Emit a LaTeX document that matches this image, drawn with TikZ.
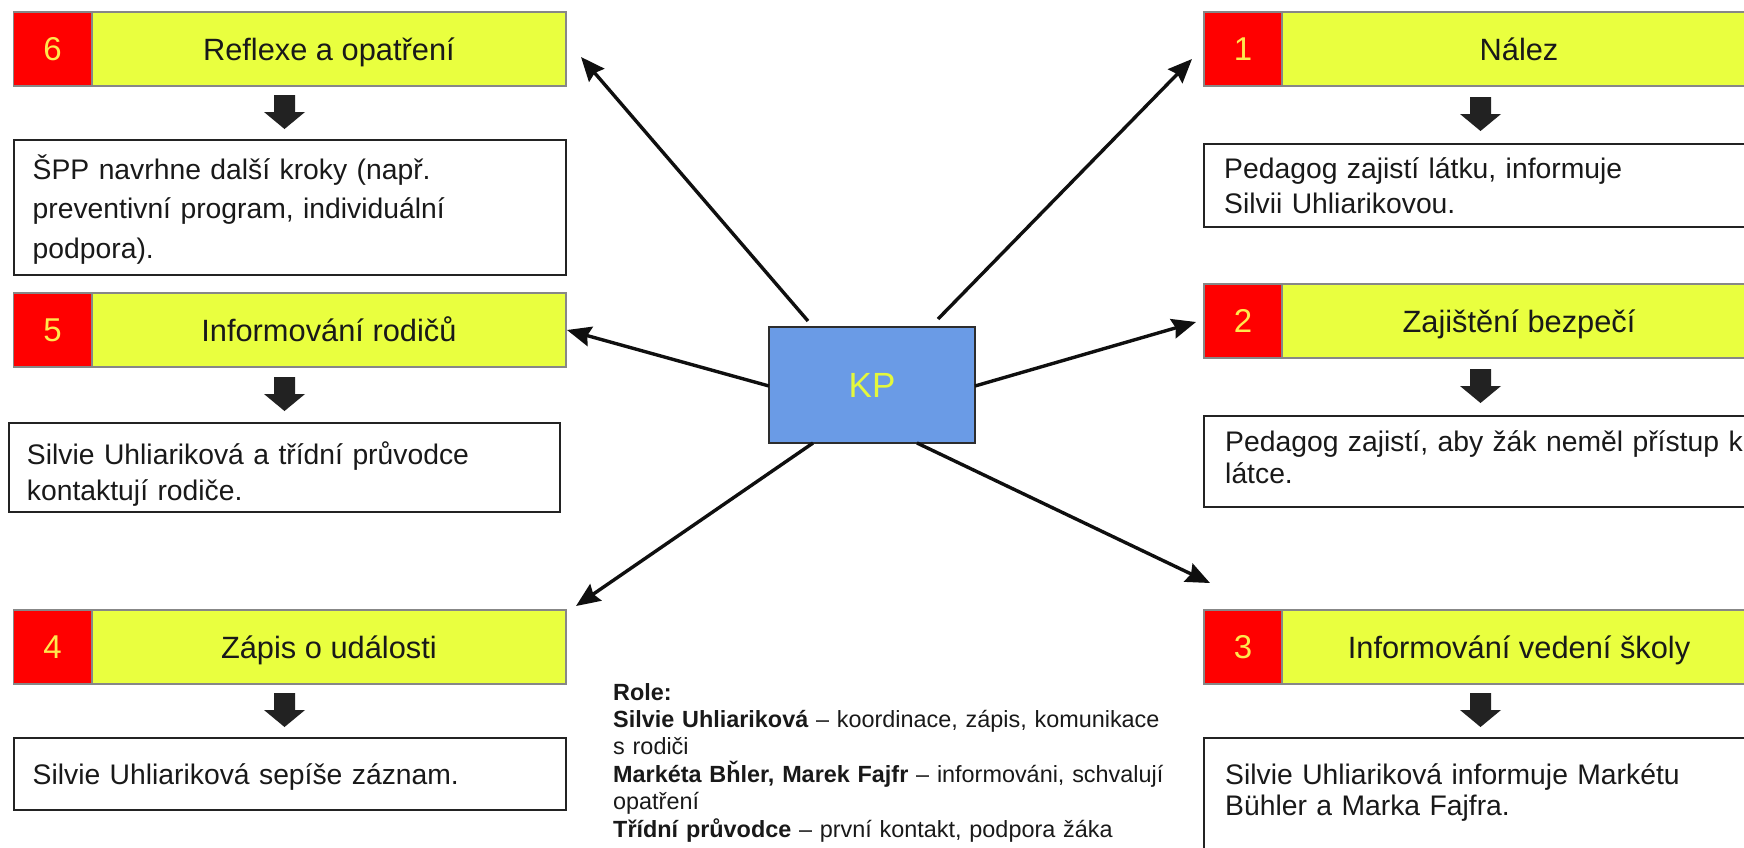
\documentclass[tikz,border=0pt]{standalone}
\usepackage{fontspec}
\setmainfont{Liberation Sans}
\usetikzlibrary{arrows.meta}
\definecolor{hdryel}{RGB}{233,255,63}
\definecolor{numred}{RGB}{255,0,0}
\definecolor{numyel}{RGB}{255,232,77}
\definecolor{hdrgray}{RGB}{135,135,135}
\definecolor{boxblack}{RGB}{35,35,35}
\definecolor{txtblack}{RGB}{25,25,25}
\definecolor{kpblue}{RGB}{106,155,230}
\definecolor{kptext}{RGB}{228,248,60}
\definecolor{kpborder}{RGB}{45,45,45}
\definecolor{arrblack}{RGB}{15,15,15}
\definecolor{blockarr}{RGB}{34,34,34}
\tikzset{
  numcell/.style={draw=hdrgray, line width=1.6pt, fill=numred, text=numyel,
    minimum width=78.5pt, minimum height=74pt, inner sep=0pt,
    font=\fontsize{33pt}{33pt}\selectfont, text height=23.6pt, text depth=0pt},
  titlecell/.style={draw=hdrgray, line width=1.6pt, fill=hdryel, text=txtblack,
    minimum width=474pt, minimum height=74pt, inner sep=0pt,
    font=\fontsize{30.8pt}{30.8pt}\selectfont, text height=22pt, text depth=0pt},
  infobox/.style={draw=boxblack, line width=2pt, fill=white, minimum width=552pt, inner sep=0pt},
  infotext/.style={anchor=base west, inner sep=0pt, text width=545pt, align=left,
    text=txtblack, font=\fontsize{28.3pt}{#1pt}\selectfont},
  infotext/.default=34,
  kpbox/.style={draw=kpborder, line width=2pt, fill=kpblue, text=kptext,
    minimum width=206pt, minimum height=116pt, inner sep=0pt,
    font=\fontsize{35pt}{35pt}\selectfont, text height=25pt, text depth=0pt},
  link/.style={line width=3.4pt, draw=arrblack, -{Stealth[length=24pt,width=20pt,inset=3pt]}},
  roletext/.style={anchor=base west, inner sep=0pt, text width=700pt, align=left, text=txtblack,
    font=\fontsize{23.4pt}{27.4pt}\selectfont},
  downarr/.pic={\fill[blockarr] (-10.5,0) -- (10.5,0) -- (10.5,17) -- (20.5,17) -- (0,34)
    -- (-20.5,17) -- (-10.5,17) -- cycle;}
}
\begin{document}
\begin{tikzpicture}[x=1pt,y=-1pt]
\useasboundingbox (0,0) rectangle (1744,847);
\clip (0,0) rectangle (1744,847);
\fill[white] (0,0) rectangle (1744,847);

% ---- left column ----
\node[titlecell] (h6) at (328.9,49) {Reflexe a opatření};
\node[numcell] (n6) at (52.65,49) {6};
\pic (a6) at (284.5,95) {downarr};
\node[infobox, minimum height=135pt] (t6) at (289.5,207.5) {};
\node[infotext=39.5] (x6) at (32.5,179) {ŠPP navrhne další kroky (např.\\preventivní program, individuální\\podpora).};

\node[titlecell] (h5) at (328.9,330) {Informování rodičů};
\node[numcell] (n5) at (52.65,330) {5};
\pic (a5) at (284.5,377) {downarr};
\node[infobox, minimum width=551pt, minimum height=89pt] (t5) at (284,467.5) {};
\node[infotext=36] (x5) at (26.8,464) {Silvie Uhliariková a třídní průvodce\\kontaktují rodiče.};

\node[titlecell] (h4) at (328.9,647) {Zápis o události};
\node[numcell] (n4) at (52.65,647) {4};
\pic (a4) at (284.5,693) {downarr};
\node[infobox, minimum height=72pt] (t4) at (289.5,774) {};
\node[infotext] (x4) at (32.5,784) {Silvie Uhliariková sepíše záznam.};

% ---- right column ----
\node[titlecell] (h1) at (1519,49) {Nález};
\node[numcell] (n1) at (1243,49) {1};
\pic (a1) at (1480.5,97) {downarr};
\node[infobox, minimum height=83pt] (t1) at (1479.7,185.5) {};
\node[infotext=35] (x1) at (1224,178) {Pedagog zajistí látku, informuje\\Silvii Uhliarikovou.};

\node[titlecell] (h2) at (1519,321) {Zajištění bezpečí};
\node[numcell] (n2) at (1243,321) {2};
\pic (a2) at (1480.5,369) {downarr};
\node[infobox, minimum height=91pt] (t2) at (1479.7,461.5) {};
\node[infotext=32.5] (x2) at (1225,451) {Pedagog zajistí, aby žák neměl přístup k\\látce.};

\node[titlecell] (h3) at (1519,647) {Informování vedení školy};
\node[numcell] (n3) at (1243,647) {3};
\pic (a3) at (1480.5,693) {downarr};
\node[infobox, minimum height=162pt] (t3) at (1479.7,819) {};
\node[infotext=31.5] (x3) at (1225,784) {Silvie Uhliariková informuje Markétu\\Bühler a Marka Fajfra.};

% ---- centre ----
\node[kpbox] (kp) at (872,385) {KP};
\coordinate (s6) at (808,321); \coordinate (e6) at (581,57);
\coordinate (s1) at (938,319); \coordinate (e1) at (1192,59);
\coordinate (s5) at (769,386); \coordinate (e5) at (567,330);
\coordinate (s2) at (975,386); \coordinate (e2) at (1196,322);
\coordinate (s4) at (813,443); \coordinate (e4) at (576,606);
\coordinate (s3) at (917,443); \coordinate (e3) at (1210,583);
\draw[link] (s6) -- (e6);
\draw[link] (s1) -- (e1);
\draw[link] (s5) -- (e5);
\draw[link] (s2) -- (e2);
\draw[link] (s4) -- (e4);
\draw[link] (s3) -- (e3);

% ---- roles ----
\node[roletext] (roles) at (613,700) {\textbf{Role:}\\
\textbf{Silvie Uhliariková} – koordinace, zápis, komunikace\\
s rodiči\\
\textbf{Markéta Bȟler, Marek Fajfr} – informováni, schvalují\\
opatření\\
\textbf{Třídní průvodce} – první kontakt, podpora žáka};
\end{tikzpicture}
\end{document}
